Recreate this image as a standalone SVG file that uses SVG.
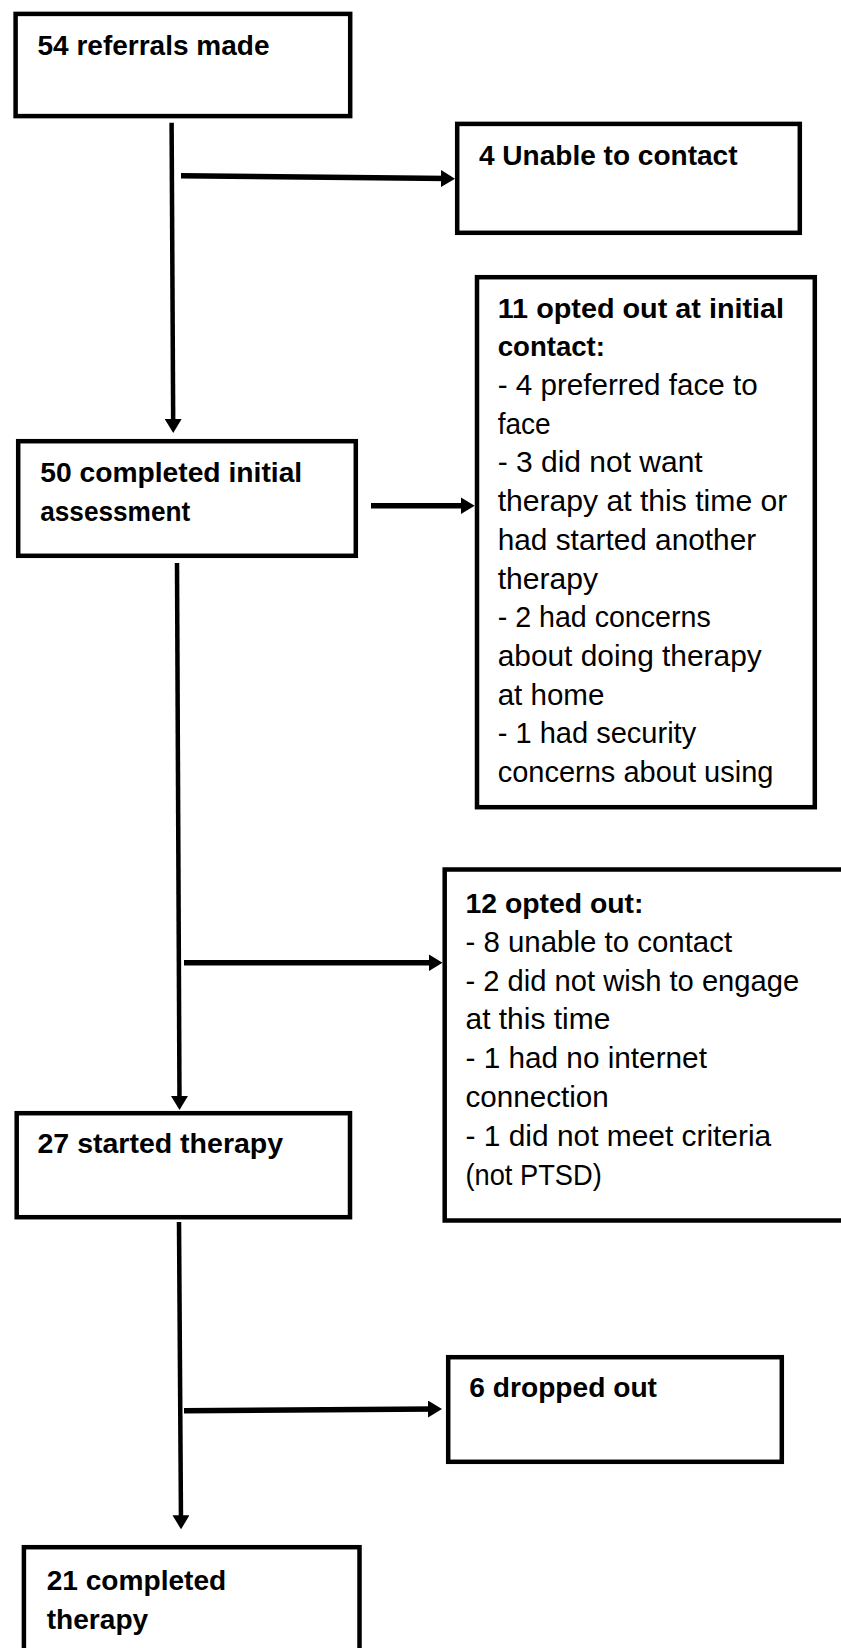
<svg xmlns="http://www.w3.org/2000/svg" width="841" height="1648" viewBox="0 0 841 1648">
<style>
.box{fill:#fff;stroke:#000;stroke-width:4.5}
text{font-family:"Liberation Sans",Arial,sans-serif;fill:#000}
.b{font-weight:bold;font-size:28px}
.r{font-size:29px}
.v{stroke:#000;stroke-width:4.5;fill:none}
.h{stroke:#000;stroke-width:5.5;fill:none}
</style>
<defs>
<marker id="ah" markerUnits="userSpaceOnUse" markerWidth="14" markerHeight="17" refX="7" refY="8.5" orient="auto">
<path d="M0,0 L14,8.5 L0,17 z" fill="#000"/>
</marker>
</defs>
<rect width="841" height="1648" fill="#fff"/>
<g id="connectors">
<line class="v" x1="171.6" y1="122.7" x2="173.2" y2="426" marker-end="url(#ah)"/>
<line class="h" x1="181" y1="175.7" x2="448" y2="178.6" marker-end="url(#ah)"/>
<line class="h" x1="371" y1="505.7" x2="467.7" y2="505.7" marker-end="url(#ah)"/>
<line class="v" x1="177" y1="563" x2="179.5" y2="1103" marker-end="url(#ah)"/>
<line class="h" x1="184" y1="962.7" x2="435.5" y2="962.7" marker-end="url(#ah)"/>
<line class="v" x1="179" y1="1222" x2="181" y2="1522.3" marker-end="url(#ah)"/>
<line class="h" x1="184" y1="1410.8" x2="435" y2="1409" marker-end="url(#ah)"/>
</g>
<g id="n1">
<rect class="box" x="15.6" y="13.9" width="334.6" height="102.2"/>
<text class="b" x="37.5" y="55" textLength="232" lengthAdjust="spacingAndGlyphs">54 referrals made</text>
</g>
<g id="n2">
<rect class="box" x="457.2" y="123.9" width="342.6" height="108.9"/>
<text class="b" x="479" y="165" textLength="258.5" lengthAdjust="spacingAndGlyphs">4 Unable to contact</text>
</g>
<g id="n3">
<rect class="box" x="18.2" y="441.2" width="337.6" height="114.6"/>
<text class="b" x="40.2" y="482" textLength="262" lengthAdjust="spacingAndGlyphs">50 completed initial</text>
<text class="b" x="40.2" y="521" textLength="150" lengthAdjust="spacingAndGlyphs">assessment</text>
</g>
<g id="n4">
<rect class="box" x="477" y="277.2" width="337.8" height="530"/>
<text class="b" x="497.7" y="317.5" textLength="286.4" lengthAdjust="spacingAndGlyphs">11 opted out at initial</text>
<text class="b" x="497.7" y="356.2" textLength="107.3" lengthAdjust="spacingAndGlyphs">contact:</text>
<text class="r" x="497.7" y="394.9" textLength="260" lengthAdjust="spacingAndGlyphs">- 4 preferred face to</text>
<text class="r" x="497.7" y="433.7" textLength="53" lengthAdjust="spacingAndGlyphs">face</text>
<text class="r" x="497.7" y="472.4" textLength="205" lengthAdjust="spacingAndGlyphs">- 3 did not want</text>
<text class="r" x="497.7" y="511.1" textLength="289.6" lengthAdjust="spacingAndGlyphs">therapy at this time or</text>
<text class="r" x="497.7" y="549.8" textLength="258.5" lengthAdjust="spacingAndGlyphs">had started another</text>
<text class="r" x="497.7" y="588.5" textLength="100.3" lengthAdjust="spacingAndGlyphs">therapy</text>
<text class="r" x="497.7" y="627.3" textLength="213" lengthAdjust="spacingAndGlyphs">- 2 had concerns</text>
<text class="r" x="497.7" y="666" textLength="264" lengthAdjust="spacingAndGlyphs">about doing therapy</text>
<text class="r" x="497.7" y="704.7" textLength="106.7" lengthAdjust="spacingAndGlyphs">at home</text>
<text class="r" x="497.7" y="743.4" textLength="198.5" lengthAdjust="spacingAndGlyphs">- 1 had security</text>
<text class="r" x="497.7" y="782.1" textLength="275.7" lengthAdjust="spacingAndGlyphs">concerns about using</text>
</g>
<g id="n5">
<rect class="box" x="444.7" y="869.5" width="420" height="351"/>
<text class="b" x="465.5" y="913" textLength="178" lengthAdjust="spacingAndGlyphs">12 opted out:</text>
<text class="r" x="465.5" y="951.8" textLength="266.6" lengthAdjust="spacingAndGlyphs">- 8 unable to contact</text>
<text class="r" x="465.5" y="990.6" textLength="333.6" lengthAdjust="spacingAndGlyphs">- 2 did not wish to engage</text>
<text class="r" x="465.5" y="1029.4" textLength="144.8" lengthAdjust="spacingAndGlyphs">at this time</text>
<text class="r" x="465.5" y="1068.2" textLength="241.4" lengthAdjust="spacingAndGlyphs">- 1 had no internet</text>
<text class="r" x="465.5" y="1107" textLength="143.2" lengthAdjust="spacingAndGlyphs">connection</text>
<text class="r" x="465.5" y="1145.8" textLength="305.7" lengthAdjust="spacingAndGlyphs">- 1 did not meet criteria</text>
<text class="r" x="465.5" y="1184.6" textLength="136.2" lengthAdjust="spacingAndGlyphs">(not PTSD)</text>
</g>
<g id="n6">
<rect class="box" x="16.7" y="1113.2" width="333.3" height="104"/>
<text class="b" x="37.5" y="1153" textLength="245.6" lengthAdjust="spacingAndGlyphs">27 started therapy</text>
</g>
<g id="n7">
<rect class="box" x="448.2" y="1357.2" width="333.6" height="104.6"/>
<text class="b" x="469.3" y="1397" textLength="187.7" lengthAdjust="spacingAndGlyphs">6 dropped out</text>
</g>
<g id="n8">
<rect class="box" x="23.9" y="1547.2" width="335.6" height="150"/>
<text class="b" x="46.7" y="1590" textLength="179.5" lengthAdjust="spacingAndGlyphs">21 completed</text>
<text class="b" x="46.7" y="1629.3" textLength="101.5" lengthAdjust="spacingAndGlyphs">therapy</text>
</g>
</svg>
